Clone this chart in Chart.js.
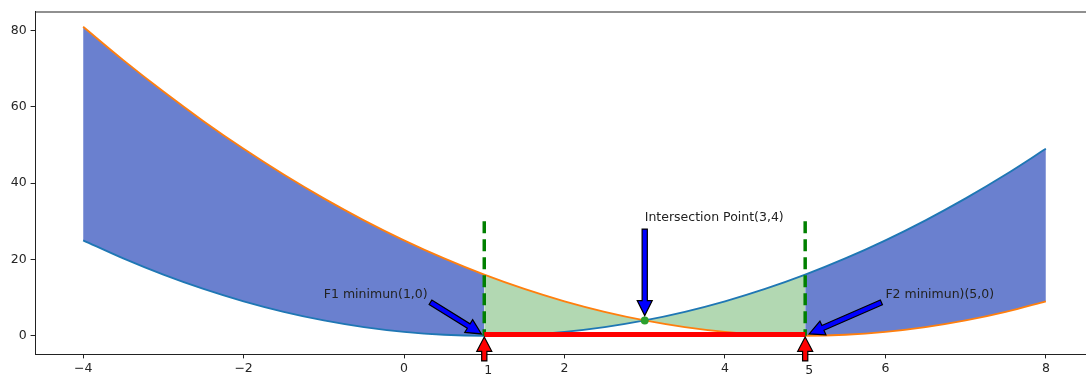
<!DOCTYPE html>
<html>
<head>
<meta charset="utf-8">
<script src="https://cdn.jsdelivr.net/npm/chart.js@4"></script>
<style>
  html, body { margin: 0; padding: 0; overflow: hidden; background: #fff; }
</style>
</head>
<body>
<canvas id="chart" width="1098" height="374"></canvas>
<script>
// values
const xs = [-4, -3.5, -3, -2.5, -2, -1.5, -1, -0.5, 0, 0.5, 1, 1.5, 2, 2.5, 3, 3.5, 4, 4.5, 5, 5.5, 6, 6.5, 7, 7.5, 8];
const f1 = [25, 20.25, 16, 12.25, 9, 6.25, 4, 2.25, 1, 0.25, 0, 0.25, 1, 2.25, 4, 6.25, 9, 12.25, 16, 20.25, 25, 30.25, 36, 42.25, 49];
const f2 = [81, 72.25, 64, 56.25, 49, 42.25, 36, 30.25, 25, 20.25, 16, 12.25, 9, 6.25, 4, 2.25, 1, 0.25, 0, 0.25, 1, 2.25, 4, 6.25, 9];
const xTicks = [-4, -2, 0, 2, 4, 6, 8];
const yTicks = [0, 20, 40, 60, 80];
const minimaX = [1, 5];
const dashTop = 30;
const redLineY = 0.3;
const intersection = [3, 4];
const notes = [
    { text: 'F1 minimun(1,0)', tx: -1, ty: 10, px: 1, py: 0, color: '#0000ff' },
    { text: 'Intersection Point(3,4)', tx: 3, ty: 30, px: 3, py: 4, color: '#0000ff' },
    { text: 'F2 minimun)(5,0)', tx: 6, ty: 10, px: 5, py: 0, color: '#0000ff' },
    { text: '1', tx: 1, ty: -10, px: 1, py: 0, color: '#ff0000' },
    { text: '5', tx: 5, ty: -10, px: 5, py: 0, color: '#ff0000' }
];

const BLUE_FILL = '#6a80cf';
const GREEN_FILL = '#b2d8b2';
const FONT_SIZE = 12.5;

function pts(ys, from, to) {
    const out = [];
    for (let i = 0; i < xs.length; i++) {
        if (xs[i] >= from && xs[i] <= to) out.push({ x: xs[i], y: ys[i] });
    }
    return out;
}

function fillSet(data, target, color) {
    return {
        data: data, fill: target, backgroundColor: color, borderWidth: 0,
        pointRadius: 0, cubicInterpolationMode: 'monotone', order: 10
    };
}
function edgeSet(data) {
    return { data: data, fill: false, borderWidth: 0, pointRadius: 0, cubicInterpolationMode: 'monotone', order: 10 };
}

Chart.defaults.font.family = 'DejaVu Sans';
Chart.defaults.font.size = FONT_SIZE;
Chart.defaults.color = '#262626';

const datasets = [
    fillSet(pts(f1, -4, 1), 1, BLUE_FILL),
    edgeSet(pts(f2, -4, 1)),
    fillSet(pts(f1, 1, 5), 3, GREEN_FILL),
    edgeSet(pts(f2, 1, 5)),
    fillSet(pts(f1, 5, 8), 5, BLUE_FILL),
    edgeSet(pts(f2, 5, 8)),
    { data: pts(f1, -4, 8), borderColor: '#1f77b4', borderWidth: 1.9, pointRadius: 0, fill: false, cubicInterpolationMode: 'monotone', order: 5 },
    { data: pts(f2, -4, 8), borderColor: '#ff7f0e', borderWidth: 1.9, pointRadius: 0, fill: false, cubicInterpolationMode: 'monotone', order: 4 }
];
// dashed guides, drawn from the top so the pattern starts with a full dash
minimaX.forEach(function (mx) {
    datasets.push({ data: [{ x: mx, y: dashTop }, { x: mx, y: 0 }], borderColor: '#008000', borderWidth: 3.5, borderDash: [12, 6], pointRadius: 0, fill: false, order: 3 });
});
datasets.push({ data: [{ x: minimaX[0], y: redLineY }, { x: minimaX[1], y: redLineY }], borderColor: '#ff0000', borderWidth: 5, pointRadius: 0, fill: false, order: 2 });
datasets.push({ data: [{ x: intersection[0], y: intersection[1] }], showLine: false, pointRadius: 4, pointBackgroundColor: '#2ca02c', pointBorderWidth: 0, order: 1 });

function drawArrow(ctx, x0, y0, x1, y1, color) {
    const dx = x1 - x0, dy = y1 - y0;
    const len = Math.hypot(dx, dy);
    const ux = dx / len, uy = dy / len;
    const nx = -uy, ny = ux;
    const w = 2.6, hw = 7.5, hl = Math.min(15, len * 0.6);
    const bx = x1 - ux * hl, by = y1 - uy * hl;
    ctx.beginPath();
    ctx.moveTo(x0 + nx * w, y0 + ny * w);
    ctx.lineTo(bx + nx * w, by + ny * w);
    ctx.lineTo(bx + nx * hw, by + ny * hw);
    ctx.lineTo(x1, y1);
    ctx.lineTo(bx - nx * hw, by - ny * hw);
    ctx.lineTo(bx - nx * w, by - ny * w);
    ctx.lineTo(x0 - nx * w, y0 - ny * w);
    ctx.closePath();
    ctx.fillStyle = color;
    ctx.fill();
    ctx.strokeStyle = '#000';
    ctx.lineWidth = 1.2;
    ctx.stroke();
}

const extras = {
    id: 'extras',
    afterDraw: function (chart) {
        const ctx = chart.ctx;
        const xs_ = chart.scales.x, ys_ = chart.scales.y;
        const a = chart.chartArea;
        ctx.save();
        // frame
        ctx.strokeStyle = '#222';
        ctx.lineWidth = 1;
        ctx.strokeRect(a.left + 0.5, a.top + 0.5, a.right - a.left - 1, a.bottom - a.top);
        ctx.font = FONT_SIZE + 'px "DejaVu Sans"';
        ctx.textBaseline = 'alphabetic';
        ctx.textAlign = 'left';
        notes.forEach(function (n) {
            const tx = xs_.getPixelForValue(n.tx), ty = ys_.getPixelForValue(n.ty);
            const px = xs_.getPixelForValue(n.px), py = ys_.getPixelForValue(n.py);
            const m = ctx.measureText(n.text);
            const left = tx, right = tx + m.width;
            const top = ty - FONT_SIZE * 0.93, bottom = ty + FONT_SIZE * 0.24;
            const cx = [left, (left + right) / 2, right].reduce(function (b, c) { return Math.abs(c - px) < Math.abs(b - px) ? c : b; });
            const cy = [top, (top + bottom) / 2, bottom].reduce(function (b, c) { return Math.abs(c - py) < Math.abs(b - py) ? c : b; });
            const sx = cx + (px - cx) * 0.05, sy = cy + (py - cy) * 0.05;
            const ex = px - (px - cx) * 0.05, ey = py - (py - cy) * 0.05;
            drawArrow(ctx, sx, sy, ex, ey, n.color);
            ctx.fillStyle = '#222';
            ctx.fillText(n.text, tx, ty);
        });
        ctx.restore();
    }
};

new Chart(document.getElementById('chart'), {
    type: 'line',
    data: { datasets: datasets },
    options: {
        responsive: false,
        animation: false,
        layout: { padding: { top: 7, left: 0, right: 0, bottom: 0 } },
        plugins: { legend: { display: false }, tooltip: { enabled: false } },
        scales: {
            x: {
                type: 'linear', min: -4.6, max: 8.6,
                afterBuildTicks: function (s) { s.ticks = xTicks.map(function (v) { return { value: v }; }); },
                afterFit: function (s) { s.height = 20; },
                grid: { drawOnChartArea: false, drawTicks: true, tickLength: 4.4, color: '#222' },
                border: { color: '#222', width: 1 },
                ticks: {
                    padding: 3, maxRotation: 0, autoSkip: false,
                    callback: function (v) { return v < 0 ? '\u2212' + Math.abs(v) : String(v); }
                }
            },
            y: {
                type: 'linear', min: -4.8, max: 85,
                afterBuildTicks: function (s) { s.ticks = yTicks.map(function (v) { return { value: v }; }); },
                afterFit: function (s) { s.width = 35; },
                grid: { drawOnChartArea: false, drawTicks: true, tickLength: 4.4, color: '#222' },
                border: { color: '#222', width: 1 },
                ticks: { padding: 4 }
            }
        }
    },
    plugins: [extras]
});
</script>
</body>
</html>
